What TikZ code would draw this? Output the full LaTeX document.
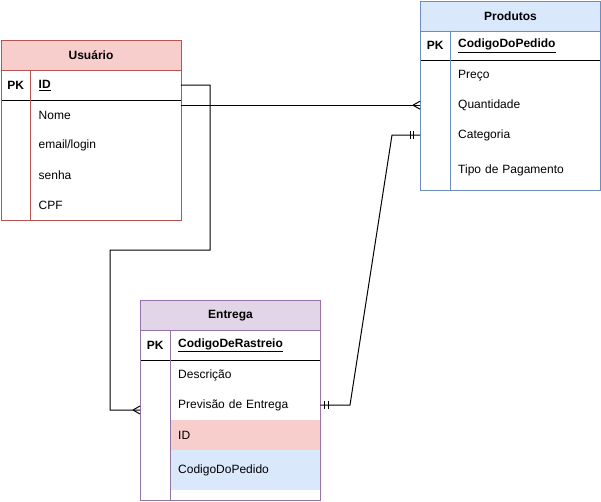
\documentclass[tikz,border=0pt]{standalone}
\usepackage{fontspec}
\setmainfont{Liberation Sans}
\definecolor{pinkF}{HTML}{F8CECC}
\definecolor{pinkS}{HTML}{B85450}
\definecolor{blueF}{HTML}{DAE8FC}
\definecolor{blueS}{HTML}{6C8EBF}
\definecolor{purpF}{HTML}{E1D5E7}
\definecolor{purpS}{HTML}{9673A6}
\begin{document}
\begin{tikzpicture}[x=1pt,y=-1pt,
  every node/.style={font=\fontsize{12}{14}\selectfont},
  bg/.style={anchor=north west, inner sep=0, minimum width=180pt, fill=white},
  frame/.style={anchor=north west, inner sep=0, minimum width=180pt, draw=#1, line width=1pt},
  hdr/.style={anchor=north west, inner sep=0, minimum width=180pt, minimum height=30pt, line width=1pt, font=\fontsize{12}{14}\selectfont\bfseries},
  pk/.style={anchor=north west, inner sep=0, minimum width=30pt, minimum height=30pt, font=\fontsize{12}{14}\selectfont\bfseries},
  fld/.style={anchor=north west, minimum width=150pt, minimum height=30pt, inner xsep=8pt, inner ysep=0, text width=134pt, align=left},
  conn/.style={draw=black, line width=1pt},
  sep/.style={line width=1pt}]
\useasboundingbox (0,0) rectangle (601,501);

% ---------- Usuario ----------
\node[bg, minimum height=180pt] (usr) at (0.5,40) {};
\node[hdr, fill=pinkF, draw=pinkS] (usrH) at (0.5,40) {Usuário};
\node[pk] (usrPK) at (0.5,70) {PK};
\node[fld] (usrID) at (30.5,70) {\underline{\textbf{ID}}};
\node[fld] (usrNome) at (30.5,100) {Nome};
\node[fld] (usrMail) at (30.5,130) {email/login};
\node[fld] (usrSenha) at (30.5,160) {senha};
\node[fld] (usrCPF) at (30.5,190) {CPF};
\draw[sep, black] (usr.west |- usrID.south) -- (usrID.south east);
\draw[sep, pinkS] (usrID.north west) -- (usrCPF.south west);
\node[frame=pinkS, minimum height=180pt] at (0.5,40) {};

% ---------- Produtos ----------
\node[bg, minimum height=189.5pt] (prod) at (420,0.5) {};
\node[hdr, fill=blueF, draw=blueS, minimum height=30pt] (prodH) at (420,0.5) {Produtos};
\node[pk] (prodPK) at (420,30.5) {PK};
\node[fld] (prodCod) at (450,30.5) {\underline{\textbf{CodigoDoPedido}}};
\node[fld] (prodPreco) at (450,60) {Preço};
\node[fld] (prodQtd) at (450,90) {Quantidade};
\node[fld] (prodCat) at (450,120) {Categoria};
\node[fld, minimum height=40pt] (prodTipo) at (450,150) {Tipo de Pagamento};
\draw[sep, black] (prod.west |- prodCod.south) -- (prodCod.south east);
\draw[sep, blueS] (prodCod.north west) -- (prodTipo.south west);
\node[frame=blueS, minimum height=189.5pt] at (420,0.5) {};

% ---------- Entrega ----------
\node[bg, minimum height=200pt] (ent) at (140,300) {};
\node[hdr, fill=purpF, draw=purpS] (entH) at (140,300) {Entrega};
\node[pk] (entPK) at (140,330) {PK};
\node[fld] (entCod) at (170,330) {\underline{\textbf{CodigoDeRastreio}}};
\node[fld] (entDesc) at (170,360) {Descrição};
\node[fld] (entPrev) at (170,390) {Previsão de Entrega};
\node[fld, fill=pinkF] (entID) at (170,420) {ID};
\node[fld, fill=blueF, minimum height=40pt] (entPed) at (170,450) {CodigoDoPedido};
\draw[sep, black] (ent.west |- entCod.south) -- (entCod.south east);
\draw[sep, purpS] (entCod.north west) -- (170,500);
\node[frame=purpS, minimum height=200pt] at (140,300) {};

% ---------- connectors ----------
\coordinate (entCf) at (140,410);
\coordinate (usrOut2) at (usr.east |- prodQtd.west);
\coordinate (prodIn2) at (prod.west |- prodQtd.west);
\coordinate (prodIn3) at (prod.west |- prodCat.west);

% Usuario ID -> Entrega (many)
\draw[conn] (usrID.east) -- (210,85) -- (210,250) -- (110,250) -- (110,410) -- (entCf);
\draw[conn] (133,410) -- (140,406) (133,410) -- (140,414);

% Usuario -> Produtos (many)
\draw[conn] (usrOut2) -- (prodIn2);
\draw[conn] ([xshift=-7pt]prodIn2) -- ([yshift=-4pt]prodIn2) ([xshift=-7pt]prodIn2) -- ([yshift=4pt]prodIn2);

% Produtos Categoria <-> Entrega Previsao (one-one)
\draw[conn] (prodIn3) -- (392,135) -- (350,405) -- (entPrev.east);
\draw[conn] (410,131) -- (410,139) (413,131) -- (413,139);
\draw[conn] (324,401) -- (324,409) (328,401) -- (328,409);
\end{tikzpicture}
\end{document}
